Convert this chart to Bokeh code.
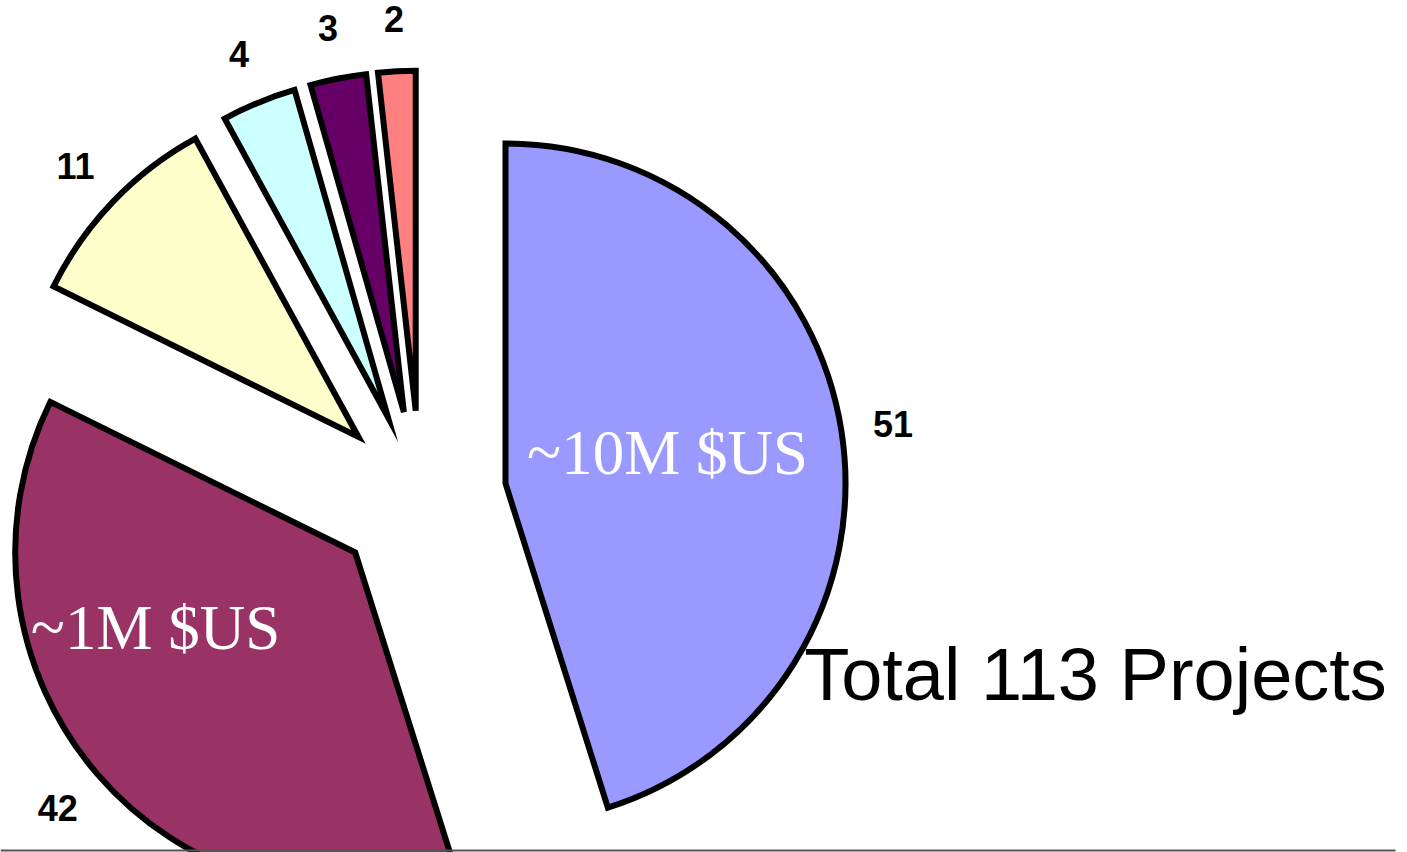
import numpy as np
from bokeh.plotting import figure
from bokeh.models import Range1d, ColumnDataSource, Label
from bokeh.core.properties import value
from bokeh.embed import file_html
from bokeh.resources import INLINE

# ---- data ----
values = [51, 42, 11, 4, 3, 2]
colors = ["#9999FF", "#993366", "#FFFFCC", "#CCFFFF", "#660066", "#FF8080"]
value_labels = [str(v) for v in values]
band_labels = ["~10M $US", "~1M $US"]
total_text = "Total 113 Projects"

# ---- layout ----
W, H = 1407, 852
PAGE_H = 852
cx, cy = 420, PAGE_H - 496      # pie centre (data units == pixels)
R = 340                          # radius
EXPLODE = 86                     # explode distance of every slice
LABEL_R = 392                    # value label centre distance from slice vertex
FS = 36                          # value label font size (px)

vals = np.array(values, dtype=float)
frac = vals / vals.sum()
cum = np.concatenate([[0], np.cumsum(frac)[:-1]])
start = np.pi / 2 - cum * 2 * np.pi
end = start - frac * 2 * np.pi
mid = (start + end) / 2
vx = cx + EXPLODE * np.cos(mid)
vy = cy + EXPLODE * np.sin(mid)
lx = vx + LABEL_R * np.cos(mid)
ly = vy + LABEL_R * np.sin(mid)

src = ColumnDataSource(dict(vx=vx, vy=vy, a0=end, a1=start, color=colors,
                            lx=lx, ly=ly, label=value_labels))

p = figure(width=W, height=H, output_backend="svg", toolbar_location=None,
           x_range=Range1d(0, W), y_range=Range1d(PAGE_H - H, PAGE_H),
           min_border=0, background_fill_color="white", border_fill_color="white")
p.axis.visible = False
p.grid.visible = False
p.outline_line_color = None

p.wedge(x="vx", y="vy", radius=R, start_angle="a0", end_angle="a1",
        fill_color="color", line_color="black", line_width=6,
        line_join="miter", source=src)

p.text(x="lx", y="ly", text="label", source=src, text_align="center",
       text_baseline="middle", text_font=value("Liberation Sans"),
       text_font_style="bold", text_font_size=f"{FS}px", text_color="black")

p.add_layout(Label(x=667, y=PAGE_H - 452, text=band_labels[0], text_align="center",
                   text_baseline="middle", text_font="Liberation Serif",
                   text_font_size="63px", text_color="white"))
p.add_layout(Label(x=155, y=PAGE_H - 627, text=band_labels[1], text_align="center",
                   text_baseline="middle", text_font="Liberation Serif",
                   text_font_size="63px", text_color="white"))
p.add_layout(Label(x=1095, y=PAGE_H - 674, text=total_text, text_align="center",
                   text_baseline="middle", text_font="Liberation Sans",
                   text_font_size="74px", text_color="black"))

p.segment(x0=[0], y0=[PAGE_H - 850], x1=[1395], y1=[PAGE_H - 850],
          line_color="#555555", line_width=2)

open("out.html", "w").write(file_html(p, INLINE))
